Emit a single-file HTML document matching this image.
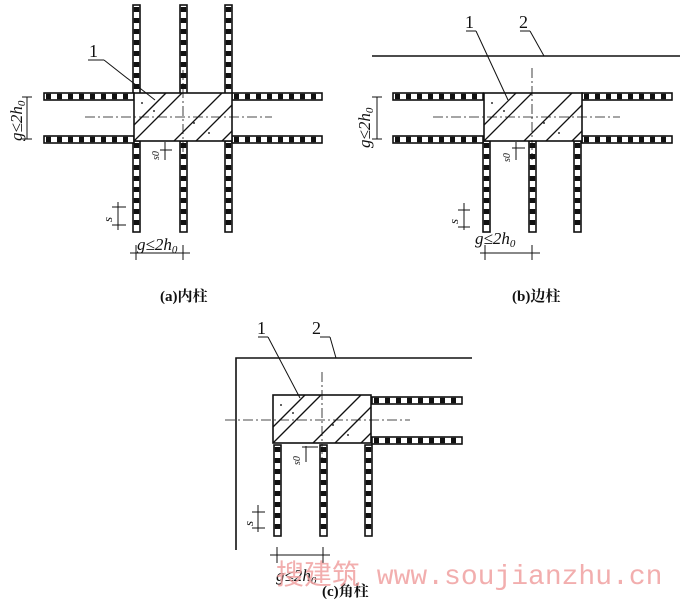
<!DOCTYPE html>
<html><head><meta charset="utf-8"><style>
html,body{margin:0;padding:0;background:#fff}
svg{display:block}
text{font-family:"Liberation Serif","Noto Serif CJK SC",serif;fill:#111}
</style></head><body>
<svg width="684" height="600" viewBox="0 0 684 600" xmlns="http://www.w3.org/2000/svg">
<defs>
<g id="hb"><rect x="0" y="0" width="90" height="7" fill="#fff" stroke="#111" stroke-width="1.6"/><line x1="2" y1="3.5" x2="88" y2="3.5" stroke="#111" stroke-width="5.5" stroke-dasharray="5 6"/></g>
<g id="vb"><rect x="0" y="0" width="7" height="91" fill="#fff" stroke="#111" stroke-width="1.6"/><line x1="3.5" y1="2" x2="3.5" y2="89" stroke="#111" stroke-width="5.5" stroke-dasharray="5 6"/></g>
<g id="col">
<rect x="0" y="0" width="98" height="48" fill="#fff" stroke="#111" stroke-width="1.6"/>
<g stroke="#111" stroke-width="1.3">
<line x1="0" y1="32" x2="32" y2="0"/><line x1="0" y1="48" x2="48" y2="0"/>
<line x1="40" y1="48" x2="88" y2="0"/><line x1="62" y1="48" x2="98" y2="12"/>
<line x1="88" y1="48" x2="98" y2="38"/>
</g>
<g fill="#333"><circle cx="20" cy="18" r="1"/><circle cx="60" cy="30" r="1"/><circle cx="75" cy="40" r="1"/><circle cx="8" cy="10" r="1"/></g>
</g>
</defs>

<!-- Panel a -->
<g>
<use href="#vb" x="133" y="5"/><use href="#vb" x="133" y="141"/>
<use href="#vb" x="180" y="5"/><use href="#vb" x="180" y="141"/>
<use href="#vb" x="225" y="5"/><use href="#vb" x="225" y="141"/>
<use href="#hb" x="44" y="93"/><use href="#hb" x="44" y="136"/>
<use href="#hb" x="232" y="93"/><use href="#hb" x="232" y="136"/>
<use href="#col" x="134" y="93"/>
<line x1="85" y1="117" x2="272" y2="117" stroke="#111" stroke-width="0.8" stroke-dasharray="10 3 2 3"/>
<line x1="183" y1="70" x2="183" y2="160" stroke="#111" stroke-width="0.8" stroke-dasharray="10 3 2 3"/>
<line x1="88" y1="60" x2="104" y2="60" stroke="#111" stroke-width="1"/>
<line x1="104" y1="60" x2="155" y2="100" stroke="#111" stroke-width="1"/>
<text x="89" y="57" font-size="18">1</text>
<line x1="27" y1="97" x2="27" y2="139" stroke="#111"/>
<line x1="22" y1="97" x2="32" y2="97" stroke="#111"/><line x1="22" y1="139" x2="32" y2="139" stroke="#111"/>
<text transform="translate(22,141) rotate(-90)" font-size="17" font-style="italic">g≤2h<tspan font-size="11" dy="3">0</tspan></text>
<line x1="112" y1="207" x2="126" y2="207" stroke="#111"/><line x1="112" y1="225" x2="126" y2="225" stroke="#111"/>
<line x1="118" y1="202" x2="118" y2="230" stroke="#111"/>
<text transform="translate(112,222) rotate(-90)" font-size="13" font-style="italic">s</text>
<line x1="165" y1="142" x2="165" y2="160" stroke="#111"/><line x1="160" y1="150" x2="172" y2="150" stroke="#111"/>
<text transform="translate(159,160) rotate(-90)" font-size="10" font-style="italic">s0</text>
<line x1="130" y1="253" x2="190" y2="253" stroke="#111"/>
<line x1="136" y1="245" x2="136" y2="260" stroke="#111"/><line x1="183" y1="245" x2="183" y2="260" stroke="#111"/>
<text x="137" y="250" font-size="17" font-style="italic">g≤2h<tspan font-size="11" dy="3">0</tspan></text>
<text x="160" y="301" font-size="15" font-weight="bold">(a)内柱</text>
</g>

<!-- Panel b -->
<g>
<line x1="372" y1="56" x2="680" y2="56" stroke="#111" stroke-width="1.6"/>
<use href="#vb" x="483" y="141"/><use href="#vb" x="529" y="141"/><use href="#vb" x="574" y="141"/>
<use href="#hb" x="393" y="93"/><use href="#hb" x="393" y="136"/>
<use href="#hb" x="582" y="93"/><use href="#hb" x="582" y="136"/>
<use href="#col" x="484" y="93"/>
<line x1="433" y1="117" x2="620" y2="117" stroke="#111" stroke-width="0.8" stroke-dasharray="10 3 2 3"/>
<line x1="532" y1="68" x2="532" y2="160" stroke="#111" stroke-width="0.8" stroke-dasharray="10 3 2 3"/>
<line x1="466" y1="31" x2="476" y2="31" stroke="#111"/><line x1="476" y1="31" x2="508" y2="100" stroke="#111"/>
<text x="465" y="28" font-size="18">1</text>
<line x1="520" y1="31" x2="530" y2="31" stroke="#111"/><line x1="530" y1="31" x2="544" y2="56" stroke="#111"/>
<text x="519" y="28" font-size="18">2</text>
<line x1="377" y1="97" x2="377" y2="139" stroke="#111"/>
<line x1="372" y1="97" x2="382" y2="97" stroke="#111"/><line x1="372" y1="139" x2="382" y2="139" stroke="#111"/>
<text transform="translate(370,148) rotate(-90)" font-size="17" font-style="italic">g≤2h<tspan font-size="11" dy="3">0</tspan></text>
<line x1="458" y1="210" x2="470" y2="210" stroke="#111"/><line x1="458" y1="227" x2="470" y2="227" stroke="#111"/>
<line x1="464" y1="203" x2="464" y2="230" stroke="#111"/>
<text transform="translate(458,224) rotate(-90)" font-size="13" font-style="italic">s</text>
<line x1="516" y1="142" x2="516" y2="160" stroke="#111"/><line x1="512" y1="148" x2="525" y2="148" stroke="#111"/>
<text transform="translate(510,162) rotate(-90)" font-size="10" font-style="italic">s0</text>
<line x1="480" y1="253" x2="540" y2="253" stroke="#111"/>
<line x1="485" y1="245" x2="485" y2="260" stroke="#111"/><line x1="532" y1="245" x2="532" y2="260" stroke="#111"/>
<text x="475" y="244" font-size="17" font-style="italic">g≤2h<tspan font-size="11" dy="3">0</tspan></text>
<text x="512" y="301" font-size="15" font-weight="bold">(b)边柱</text>
</g>

<!-- Panel c -->
<g>
<polyline points="472,358 236,358 236,550" fill="none" stroke="#111" stroke-width="1.6"/>
<use href="#vb" x="274" y="445"/><use href="#vb" x="320" y="445"/><use href="#vb" x="365" y="445"/>
<use href="#hb" x="372" y="397"/><use href="#hb" x="372" y="437"/>
<use href="#col" x="273" y="395"/>
<line x1="225" y1="420" x2="410" y2="420" stroke="#111" stroke-width="0.8" stroke-dasharray="10 3 2 3"/>
<line x1="322" y1="372" x2="322" y2="460" stroke="#111" stroke-width="0.8" stroke-dasharray="10 3 2 3"/>
<line x1="258" y1="337" x2="268" y2="337" stroke="#111"/><line x1="268" y1="337" x2="300" y2="398" stroke="#111"/>
<text x="257" y="334" font-size="18">1</text>
<line x1="320" y1="337" x2="330" y2="337" stroke="#111"/><line x1="330" y1="337" x2="336" y2="358" stroke="#111"/>
<text x="312" y="334" font-size="18">2</text>
<line x1="252" y1="512" x2="265" y2="512" stroke="#111"/><line x1="252" y1="528" x2="265" y2="528" stroke="#111"/>
<line x1="258" y1="505" x2="258" y2="532" stroke="#111"/>
<text transform="translate(253,526) rotate(-90)" font-size="13" font-style="italic">s</text>
<line x1="306" y1="446" x2="306" y2="462" stroke="#111"/><line x1="302" y1="447" x2="318" y2="447" stroke="#111"/>
<text transform="translate(300,465) rotate(-90)" font-size="10" font-style="italic">s0</text>
<line x1="270" y1="555" x2="330" y2="555" stroke="#111"/>
<line x1="277" y1="547" x2="277" y2="563" stroke="#111"/><line x1="323" y1="547" x2="323" y2="563" stroke="#111"/>
<text x="276" y="581" font-size="17" font-style="italic">g≤2h<tspan font-size="11" dy="3">0</tspan></text>
<text x="322" y="596" font-size="15" font-weight="bold">(c)角柱</text>
</g>

<text x="276" y="584" font-size="28" style="font-family:'Liberation Mono','Noto Sans CJK SC',monospace;fill:#f0a0a0" fill-opacity="0.85">搜建筑 www.soujianzhu.cn</text>
</svg>
</body></html>
